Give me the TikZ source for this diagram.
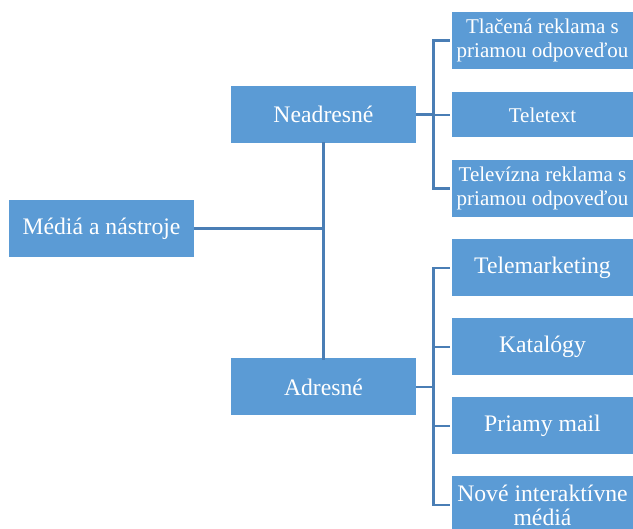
\documentclass[tikz,border=0pt]{standalone}
\usepackage{fontspec}
\setmainfont{Liberation Serif}
\definecolor{boxblue}{HTML}{5B9BD5}
\definecolor{linkblue}{HTML}{4A7EB5}
\begin{document}
\begin{tikzpicture}[x=1pt,y=-1pt,
  box/.style={fill=boxblue,text=white,inner sep=0pt,align=center,
    minimum width=185pt,minimum height=57pt,font=\fontsize{23.7}{24}\selectfont},
  leaf/.style={box,minimum width=181pt},
  smallleaf/.style={leaf,font=\fontsize{21}{24}\selectfont},
  conn/.style={draw=linkblue,line width=2.8pt}]
\useasboundingbox (0,0) rectangle (633,529);

% main levels
\node[box] (root) at (101.5,228.5) {Médiá a nástroje};
\node[box] (neadr) at (323.5,114.5) {Neadresné};
\node[box] (adr) at (323.5,387) {Adresné};

% unaddressed media
\node[smallleaf] (tlac) at (542.5,40.5) {Tlačená reklama s\\priamou odpoveďou};
\node[smallleaf,minimum height=45pt] (tele) at (542.5,115) {Teletext};
\node[smallleaf] (telv) at (542.5,188.5) {Televízna reklama s\\priamou odpoveďou};

% addressed media
\node[leaf] (tmk) at (542.5,268) {Telemarketing};
\node[leaf] (kat) at (542.5,347) {Katalógy};
\node[leaf] (mail) at (542.5,426) {Priamy mail};
\node[leaf] (nove) at (542.5,505) {Nové interaktívne\\médiá};

% root to both groups
\draw[conn] (root.east) -- (root.east -| neadr.south);
\draw[conn] ([yshift=1pt]neadr.south) -- ([yshift=-2pt]adr.north);

% group brackets
\foreach \c in {tlac,tele,telv}
  \draw[conn] (neadr.east) -- ++(17,0) |- ([xshift=-1.5pt]\c.west);
\foreach \c in {tmk,kat,mail,nove}
  \draw[conn] (adr.east) -- ++(17,0) |- ([xshift=-1.5pt]\c.west);
\end{tikzpicture}
\end{document}
